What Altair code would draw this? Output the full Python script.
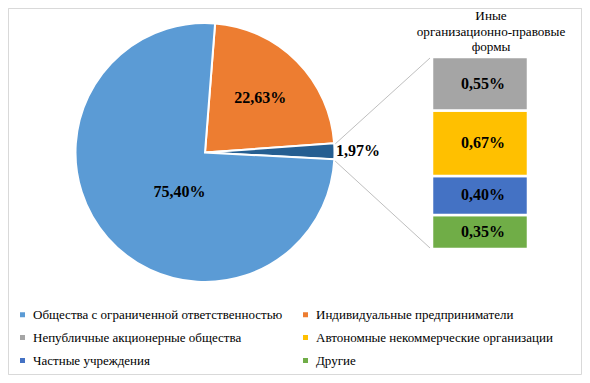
import math
import altair as alt
import pandas as pd

# ---- data ----
pie_labels = ["Индивидуальные предприниматели",
              "Иные организационно-правовые формы",
              "Общества с ограниченной ответственностью"]
pie_values = [22.63, 1.97, 75.40]
pie_text = ["22,63%", "1,97%", "75,40%"]

bar_labels = ["Другие", "Частные учреждения",
              "Автономные некоммерческие организации",
              "Непубличные акционерные общества"]
bar_values = [0.35, 0.40, 0.67, 0.55]
bar_text = ["0,35%", "0,40%", "0,67%", "0,55%"]

legend_order = ["Общества с ограниченной ответственностью",
                "Индивидуальные предприниматели",
                "Непубличные акционерные общества",
                "Автономные некоммерческие организации",
                "Частные учреждения",
                "Другие"]
legend_colors = ["#5B9BD5", "#ED7D31", "#A5A5A5", "#FFC000", "#4472C4", "#70AD47"]
other_name = "Иные организационно-правовые формы"
other_color = "#255E91"
bar_title = "Иные\nорганизационно-правовые\nформы"

pie_df = pd.DataFrame({"cat": pie_labels, "value": pie_values,
                       "txt": pie_text, "ord": list(range(len(pie_labels)))})
bar_df = pd.DataFrame({"cat": bar_labels, "value": bar_values,
                       "txt": bar_text, "ord": list(range(len(bar_labels)))})
one = pd.DataFrame({"a": [0]})

# legend fills column by column: left column first, then the right one
legend_values = legend_order[0::2] + legend_order[1::2]

W, H = 574, 367
CX, CY, R = 197, 144.5, 129.5
A0 = 0.078
FONT = "Liberation Serif"

color = alt.Color("cat:N",
                  scale=alt.Scale(domain=legend_order + [other_name],
                                  range=legend_colors + [other_color]),
                  legend=alt.Legend(orient="none", legendX=8, legendY=300,
                                    padding=0,
                                    columns=2, title=None, values=legend_values,
                                    symbolType="square", symbolSize=25,
                                    symbolStrokeWidth=0,
                                    labelFont=FONT, labelFontSize=13,
                                    labelColor="black", labelOffset=4,
                                    columnPadding=16, rowPadding=9,
                                    labelLimit=0))

theta = alt.Theta("value:Q", stack=True,
                  scale=alt.Scale(range=[A0, A0 + 2 * math.pi]))
order = alt.Order("ord:Q")

border = alt.Chart(one).mark_rect(fill="white", stroke="#D9D9D9", strokeWidth=1).encode(
    x=alt.value(0.5), x2=alt.value(W - 0.5), y=alt.value(0.5), y2=alt.value(H - 0.5))

pie = alt.Chart(pie_df).mark_arc(radius=R, stroke="white", strokeWidth=2).encode(
    theta=theta, order=order, color=color,
    x=alt.value(CX), y=alt.value(CY))

def pie_label(idx, radius, offset=0.0):
    return alt.Chart(pie_df).mark_text(
        radius=radius, thetaOffset=offset, font=FONT, fontSize=16,
        fontWeight="bold", color="black", baseline="middle", align="center"
    ).encode(
        theta=theta, order=order,
        x=alt.value(CX), y=alt.value(CY),
        text=alt.condition(f"datum.ord == {idx}", alt.Text("txt:N"), alt.value("")))

lab1 = pie_label(0, 78)
lab2 = pie_label(1, 153)
lab3 = pie_label(2, 47, -0.275)

yscale = alt.Scale(domain=[0, sum(bar_values)], range=[241, 49])

stacked = alt.Chart(bar_df).transform_stack(
    stack="value", as_=["y0", "y1"], groupby=[],
    sort=[alt.SortField("ord", order="ascending")]
).transform_calculate(mid="(datum.y0 + datum.y1) / 2")

bars = stacked.mark_rect(stroke="white", strokeWidth=2.5).encode(
    y=alt.Y("y0:Q", scale=yscale, axis=None), y2="y1:Q",
    color=color, x=alt.value(424), x2=alt.value(520))

bar_labels_layer = stacked.mark_text(
    font=FONT, fontSize=16, fontWeight="bold", color="black",
    baseline="middle", align="center"
).encode(y=alt.Y("mid:Q", scale=yscale, axis=None),
         x=alt.value(475), text="txt:N")

rule_style = dict(color="#BFBFBF", strokeWidth=1)
line1 = alt.Chart(one).mark_rule(**rule_style).encode(
    x=alt.value(326), y=alt.value(137), x2=alt.value(422), y2=alt.value(50))
line2 = alt.Chart(one).mark_rule(**rule_style).encode(
    x=alt.value(326), y=alt.value(152), x2=alt.value(422), y2=alt.value(240))

title = alt.Chart(one).mark_text(
    text=bar_title.split("\n"), font=FONT, fontSize=13.2, color="black",
    align="center", baseline="alphabetic", lineHeight=15.5
).encode(x=alt.value(483), y=alt.value(12))

chart = alt.layer(border, line1, line2, pie, lab1, lab2, lab3, bars,
                  bar_labels_layer, title).properties(
    width=W, height=H, padding=0,
    autosize=alt.AutoSizeParams(type="none")
).configure_view(stroke=None).configure(
    background="white", font=FONT
).configure_legend(labelFont=FONT, labelFontSize=13, labelColor="black")

chart.save("out.html", embed_options={"renderer": "svg", "actions": False})
